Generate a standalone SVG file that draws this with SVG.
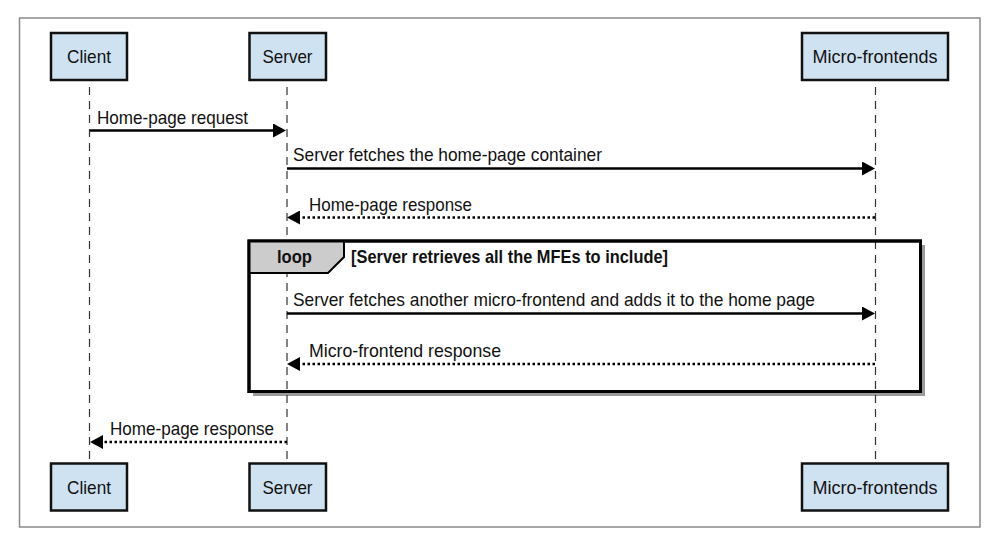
<svg xmlns="http://www.w3.org/2000/svg" width="993" height="539" viewBox="0 0 993 539">
  <defs>
    <style>
      .frame { fill: #ffffff; stroke: #8a8a8a; stroke-width: 1.5; }
      .box { fill: #cfe2f1; stroke: #111111; stroke-width: 2.5; }
      .lbl { font-family: "Liberation Sans", Arial, sans-serif; font-size: 19px; fill: #111111; }
      .bold { font-weight: bold; }
      .life { stroke: #333333; stroke-width: 1.2; stroke-dasharray: 8,6; fill: none; }
      .msg { stroke: #000000; stroke-width: 2.5; fill: none; marker-end: url(#ah); }
      .ret { stroke: #000000; stroke-width: 2.5; stroke-dasharray: 2.5,2.5; fill: none; marker-end: url(#ah); }
    </style>
    <marker id="ah" viewBox="0 0 13 14" refX="7" refY="7" markerWidth="13" markerHeight="14" orient="auto" markerUnits="userSpaceOnUse">
      <path d="M0,0 L13,7 L0,14 z" fill="#000000"/>
    </marker>
  </defs>

  <rect class="frame" x="19.5" y="18" width="960.5" height="509"/>

  <g id="loop-frame">
    <polyline points="923,245 923,394 253,394" fill="none" stroke="#9a9a9a" stroke-width="4"/>
    <rect x="249" y="241" width="671.5" height="150.5" fill="#ffffff" stroke="#000000" stroke-width="3"/>
  </g>

  <g id="lifelines">
    <line class="life" x1="89.5" y1="87" x2="89.5" y2="463"/>
    <line class="life" x1="287" y1="87" x2="287" y2="463"/>
    <line class="life" x1="875.5" y1="87" x2="875.5" y2="463"/>
  </g>

  <g id="loop-tab">
    <path d="M249,241 L344,241 L344,257 L328,273 L249,273 Z" fill="#cccccc" stroke="#000000" stroke-width="2"/>
    <rect x="249" y="241" width="671.5" height="150.5" fill="none" stroke="#000000" stroke-width="3"/>
    <text class="lbl bold" x="277" y="263" textLength="35" lengthAdjust="spacingAndGlyphs">loop</text>
    <text class="lbl bold" x="351" y="263" textLength="317" lengthAdjust="spacingAndGlyphs">[Server retrieves all the MFEs to include]</text>
  </g>

  <g id="connectors">
    <line class="msg" x1="90" y1="130.5" x2="280" y2="130.5"/>
    <text class="lbl" x="97" y="124" textLength="151" lengthAdjust="spacingAndGlyphs">Home-page request</text>

    <line class="msg" x1="287" y1="168.5" x2="869" y2="168.5"/>
    <text class="lbl" x="293" y="161" textLength="309" lengthAdjust="spacingAndGlyphs">Server fetches the home-page container</text>

    <line class="ret" x1="875" y1="217.5" x2="293" y2="217.5"/>
    <text class="lbl" x="309" y="211" textLength="163" lengthAdjust="spacingAndGlyphs">Home-page response</text>

    <line class="msg" x1="287" y1="313.5" x2="869" y2="313.5"/>
    <text class="lbl" x="293" y="306" textLength="522" lengthAdjust="spacingAndGlyphs">Server fetches another micro-frontend and adds it to the home page</text>

    <line class="ret" x1="875" y1="364" x2="293" y2="364"/>
    <text class="lbl" x="309" y="357" textLength="192" lengthAdjust="spacingAndGlyphs">Micro-frontend response</text>

    <line class="ret" x1="287" y1="442" x2="96" y2="442"/>
    <text class="lbl" x="110" y="435" textLength="164" lengthAdjust="spacingAndGlyphs">Home-page response</text>
  </g>

  <g id="client-top">
    <rect class="box" x="51" y="33" width="76" height="47"/>
    <text class="lbl" x="89" y="63" text-anchor="middle" textLength="44" lengthAdjust="spacingAndGlyphs">Client</text>
  </g>
  <g id="server-top">
    <rect class="box" x="249.5" y="33" width="76.5" height="47"/>
    <text class="lbl" x="287.5" y="63" text-anchor="middle" textLength="50" lengthAdjust="spacingAndGlyphs">Server</text>
  </g>
  <g id="mfe-top">
    <rect class="box" x="802" y="33" width="146" height="47"/>
    <text class="lbl" x="875" y="63" text-anchor="middle" textLength="125" lengthAdjust="spacingAndGlyphs">Micro-frontends</text>
  </g>
  <g id="client-bottom">
    <rect class="box" x="51" y="463.5" width="76" height="47"/>
    <text class="lbl" x="89" y="493.5" text-anchor="middle" textLength="44" lengthAdjust="spacingAndGlyphs">Client</text>
  </g>
  <g id="server-bottom">
    <rect class="box" x="249.5" y="463.5" width="76.5" height="47"/>
    <text class="lbl" x="287.5" y="493.5" text-anchor="middle" textLength="50" lengthAdjust="spacingAndGlyphs">Server</text>
  </g>
  <g id="mfe-bottom">
    <rect class="box" x="802" y="463.5" width="146" height="47"/>
    <text class="lbl" x="875" y="493.5" text-anchor="middle" textLength="125" lengthAdjust="spacingAndGlyphs">Micro-frontends</text>
  </g>
</svg>
